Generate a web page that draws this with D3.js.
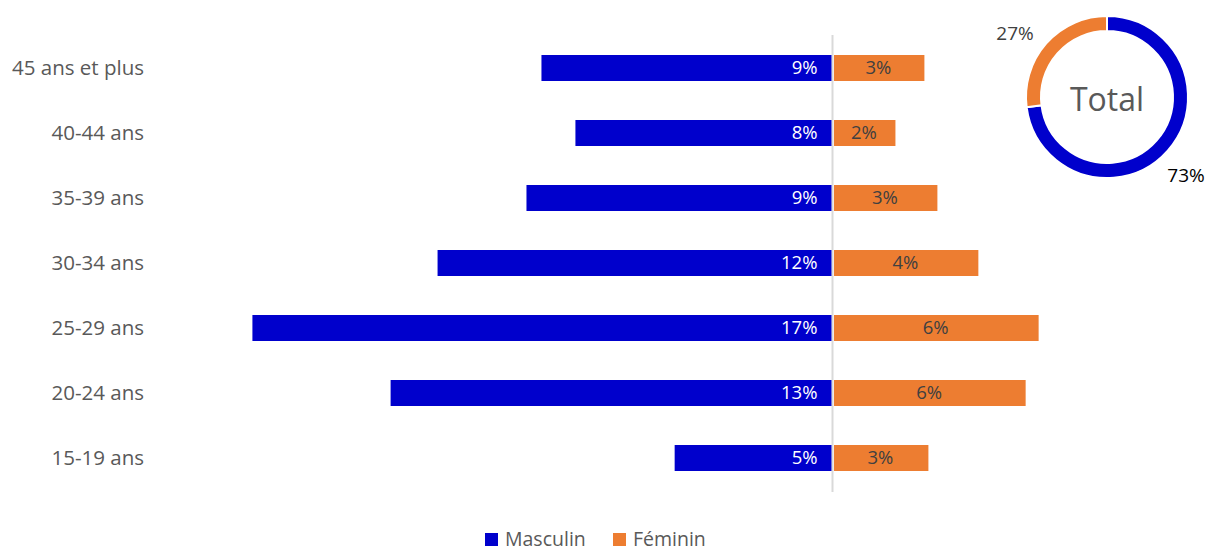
<!DOCTYPE html>
<html>
<head>
<meta charset="utf-8">
<script src="https://cdn.jsdelivr.net/npm/d3@7"></script>
<style>
  body { margin: 0; background: #fff; overflow: hidden; }
  text { font-family: "Open Sans", "Noto Sans", sans-serif; }
</style>
</head>
<body>
<svg id="chart"></svg>
<script>
// data
const ages = ["45 ans et plus", "40-44 ans", "35-39 ans", "30-34 ans", "25-29 ans", "20-24 ans", "15-19 ans"];
const masculin = [8.74, 7.72, 9.19, 11.86, 17.42, 13.27, 4.74];
const feminin = [2.76, 1.89, 3.15, 4.38, 6.19, 5.80, 2.88];
const totals = [{ name: "Masculin", value: 73 }, { name: "Féminin", value: 27 }];
const colors = { Masculin: "#0000CC", "Féminin": "#ED7D31" };

const w = 1208, h = 551;
const svg = d3.select("#chart").attr("width", w).attr("height", h);

// scales
const x = d3.scaleLinear().domain([-20, 20]).range([832.5 - 20 * 33.3, 832.5 + 20 * 33.3]);
const y = d3.scaleBand().domain(ages).range([35.5, 490.5]).paddingInner(0.6).paddingOuter(0.3);

// centre line
svg.append("line")
  .attr("x1", x(0)).attr("x2", x(0))
  .attr("y1", 35).attr("y2", 492)
  .attr("stroke", "#d9d9d9").attr("stroke-width", 2);

// category labels
svg.selectAll(".cat")
  .data(ages)
  .join("text")
    .attr("x", 144)
    .attr("y", d => y(d) + y.bandwidth() / 2)
    .attr("dy", "0.35em")
    .attr("text-anchor", "end")
    .attr("fill", "#595959")
    .style("font-size", "20.5px")
    .text(d => d);

// masculin bars
svg.selectAll(".m")
  .data(masculin)
  .join("rect")
    .attr("x", d => x(-d))
    .attr("y", (d, i) => y(ages[i]))
    .attr("width", d => x(0) - 1 - x(-d))
    .attr("height", y.bandwidth())
    .attr("fill", colors.Masculin);

svg.selectAll(".ml")
  .data(masculin)
  .join("text")
    .attr("x", x(0) - 15)
    .attr("y", (d, i) => y(ages[i]) + y.bandwidth() / 2)
    .attr("dy", "0.35em")
    .attr("text-anchor", "end")
    .attr("fill", "#fff")
    .style("font-size", "18.5px")
    .text(d => Math.round(d) + "%");

// feminin bars
svg.selectAll(".f")
  .data(feminin)
  .join("rect")
    .attr("x", x(0) + 1.5)
    .attr("y", (d, i) => y(ages[i]))
    .attr("width", d => x(d) - x(0) - 1.5)
    .attr("height", y.bandwidth())
    .attr("fill", colors["Féminin"]);

svg.selectAll(".fl")
  .data(feminin)
  .join("text")
    .attr("x", d => (x(0) + x(d)) / 2)
    .attr("y", (d, i) => y(ages[i]) + y.bandwidth() / 2)
    .attr("dy", "0.35em")
    .attr("text-anchor", "middle")
    .attr("fill", "#404040")
    .style("font-size", "18.5px")
    .text(d => Math.round(d) + "%");

// donut
const cx = 1107, cy = 97, R = 81, r = 66;
const pie = d3.pie().value(d => d.value).sort(null);
const arc = d3.arc().innerRadius(r).outerRadius(R);
const g = svg.append("g").attr("transform", `translate(${cx},${cy})`);
g.selectAll("path")
  .data(pie(totals))
  .join("path")
    .attr("d", arc)
    .attr("fill", d => colors[d.data.name])
    .attr("stroke", "#fff")
    .attr("stroke-width", 2);
g.append("text")
  .attr("y", 3)
  .attr("text-anchor", "middle")
  .attr("dy", "0.35em")
  .attr("fill", "#595959")
  .style("font-size", "32px")
  .text("Total");
svg.append("text").attr("x", 1015).attr("y", 33).attr("dy", "0.35em")
  .attr("text-anchor", "middle").attr("fill", "#404040").style("font-size", "19px")
  .text(totals[1].value + "%");
svg.append("text").attr("x", 1186).attr("y", 175).attr("dy", "0.35em")
  .attr("text-anchor", "middle").attr("fill", "#000").style("font-size", "19px")
  .text(totals[0].value + "%");

// legend
const legend = svg.append("g");
const items = [{ name: "Masculin", x: 485 }, { name: "Féminin", x: 613 }];
items.forEach(it => {
  legend.append("rect").attr("x", it.x).attr("y", 533).attr("width", 13).attr("height", 13)
    .attr("fill", colors[it.name]);
  legend.append("text").attr("x", it.x + 20).attr("y", 539).attr("dy", "0.35em")
    .attr("fill", "#595959").style("font-size", "19.5px").text(it.name);
});
</script>
</body>
</html>
